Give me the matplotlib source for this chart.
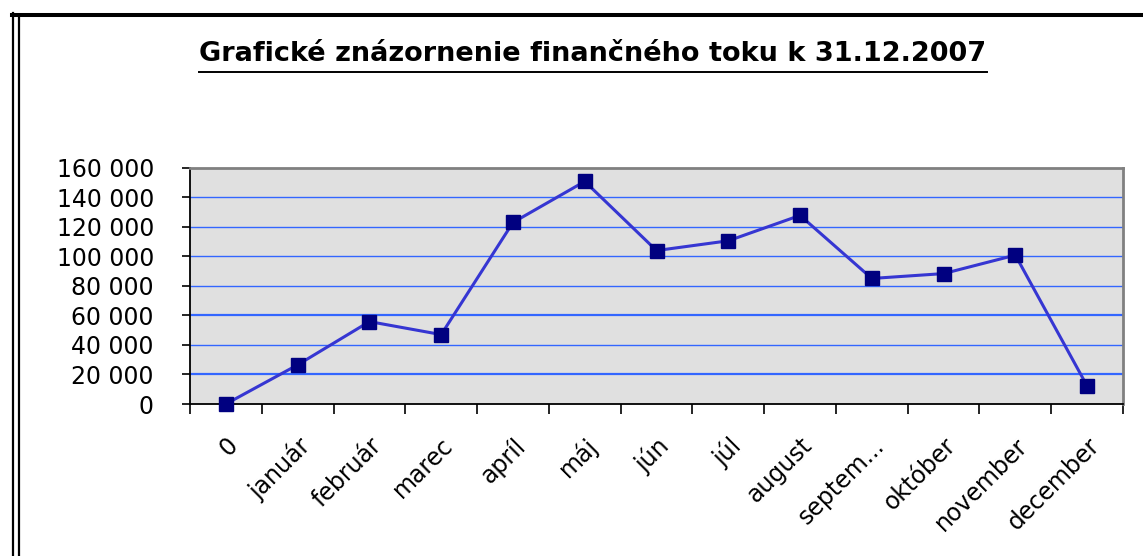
import numpy as np
import matplotlib
matplotlib.use('Agg')
import matplotlib.pyplot as plt
from matplotlib.ticker import FuncFormatter, MultipleLocator, FixedLocator
from matplotlib.lines import Line2D

plt.rcParams['font.family'] = ['DejaVu Sans']

# data
months = ['0', 'január', 'február', 'marec', 'apríl', 'máj', 'jún', 'júl',
          'august', 'septem...', 'október', 'november', 'december']
cash_flow = [0, 26500, 55800, 47000, 122900, 150700, 103900, 110500,
             127700, 85000, 88300, 100800, 12200]
title = 'Grafické znázornenie finančného toku k 31.12.2007'

W, H = 1143, 556
fig = plt.figure(figsize=(W / 100, H / 100), dpi=100)
fig.patch.set_facecolor('white')

# outer frame: thick top rule + double line on the left
fig.add_artist(Line2D([12 / W, 1], [1 - 15 / H] * 2, color='black', lw=2.9))
fig.add_artist(Line2D([13 / W] * 2, [1 - 13 / H, 0], color='black', lw=1.6))
fig.add_artist(Line2D([19 / W] * 2, [1 - 17 / H, 0], color='black', lw=1.6))

ax = fig.add_axes([190 / W, 1 - 404 / H, (1123 - 190) / W, (404 - 167.7) / H])
ax.set_facecolor('#e0e0e0')

x = np.arange(len(months))
for yv in range(20000, 160000, 20000):
    ax.axhline(yv, color='#3366ff', lw=1.6 if yv in (20000, 60000) else 1.0, zorder=1)

ax.plot(x, cash_flow, color='#3636d2', lw=2.2, marker='s', markersize=10.5,
        markerfacecolor='#000080', markeredgecolor='#000080', zorder=3,
        clip_on=False)

ax.set_xlim(-0.5, len(months) - 0.5)
ax.set_ylim(0, 160000)
ax.yaxis.set_major_locator(MultipleLocator(20000))
ax.yaxis.set_major_formatter(FuncFormatter(lambda v, p: f'{int(v):,}'.replace(',', ' ')))
ax.tick_params(axis='y', direction='out', length=6, width=1.2, pad=20,
               labelsize=17, colors='black')

ax.set_xticks(x)
ax.set_xticklabels(months, rotation=45, ha='right', rotation_mode='anchor',
                   fontsize=17)
ax.tick_params(axis='x', which='major', length=0, pad=21)
ax.xaxis.set_minor_locator(FixedLocator(np.arange(-0.5, len(months), 1.0)))
ax.tick_params(axis='x', which='minor', direction='out', length=7, width=1.2)

for side in ('top', 'right'):
    ax.spines[side].set_color('#808080')
    ax.spines[side].set_linewidth(2.0)
for side in ('left', 'bottom'):
    ax.spines[side].set_color('black')
    ax.spines[side].set_linewidth(1.3)

# title with underline
t = fig.text(593 / W, 1 - 61 / H, title, ha='center', va='baseline',
             fontsize=19.5, fontweight='bold')
fig.canvas.draw()
bb = t.get_window_extent(fig.canvas.get_renderer())
fig.add_artist(Line2D([bb.x0 / W, bb.x1 / W], [1 - 71.5 / H] * 2,
                      color='black', lw=1.4))

fig.savefig('out.png', dpi=100, facecolor='white')
